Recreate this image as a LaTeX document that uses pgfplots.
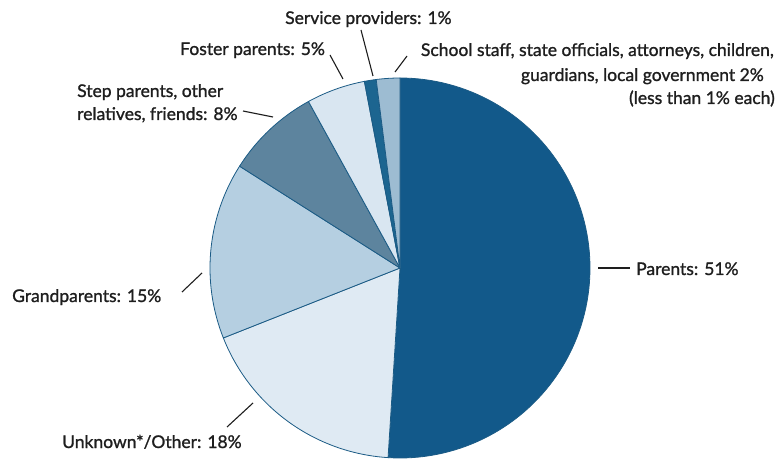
\documentclass[border=0pt]{standalone}
\usepackage{pgfplots}
\pgfplotsset{compat=1.18}
\usepackage{fontspec}
\setmainfont{Lato}
\newfontfamily\lblfont{Lato}[RawFeature={embolden=1.2}]

\definecolor{edge}{HTML}{1B5B85}
\definecolor{cParents}{HTML}{12598A}
\definecolor{cUnknown}{HTML}{DFEAF3}
\definecolor{cGrand}{HTML}{B5CFE1}
\definecolor{cStep}{HTML}{5D849E}
\definecolor{cFoster}{HTML}{D9E6F1}
\definecolor{cService}{HTML}{1C6590}
\definecolor{cSchool}{HTML}{9DBCD2}
\definecolor{txt}{HTML}{1E1E1E}

% #1: cumulative share before this slice (%), #2: share (%), #3: colour
\newcommand{\slice}[3]{%
  \addplot[fill=#3, draw=edge, line width=0.8pt, samples=100,
    domain={90-3.6*(#1+#2)}:{90-3.6*#1}]
    ({400+190*cos(x)},{268-190*sin(x)}) -- (axis cs:400,268) -- cycle;
}

\begin{document}
\begin{tikzpicture}[lbl/.style={font=\lblfont\fontsize{17.5}{25}\selectfont, text=txt, inner sep=0pt}]
\begin{axis}[
    width=777pt, height=462pt, scale only axis,
    xmin=0, xmax=777, ymin=0, ymax=462, y dir=reverse,
    axis line style={draw=none}, ticks=none, clip=false]

  \slice{0}{51}{cParents}
  \slice{51}{18}{cUnknown}
  \slice{69}{15}{cGrand}
  \slice{84}{8}{cStep}
  \slice{92}{5}{cFoster}
  \slice{97}{1}{cService}
  \slice{98}{2}{cSchool}

  % leaders
  \draw[line width=1.1pt, txt] (axis cs:598,268) -- (axis cs:630,268);
  \draw[line width=1.1pt, txt] (axis cs:227,427) -- (axis cs:253,403);
  \draw[line width=1.1pt, txt] (axis cs:182,292) -- (axis cs:202,273);
  \draw[line width=1.1pt, txt] (axis cs:243,111) -- (axis cs:273,117);
  \draw[line width=1.1pt, txt] (axis cs:330,55) -- (axis cs:343,79);
  \draw[line width=1.1pt, txt] (axis cs:361,30) -- (axis cs:373,76);
  \draw[line width=1.1pt, txt] (axis cs:395,72) -- (axis cs:407,56);

  % labels
  \node[lbl, anchor=base west] at (axis cs:636,275) {Parents: 51\%};
  \node[lbl, anchor=base west] at (axis cs:62,448) {Unknown*/Other: 18\%};
  \node[lbl, anchor=base west] at (axis cs:12,302) {Grandparents: 15\%};
  \node[lbl, anchor=base west] at (axis cs:77,97) {Step parents, other};
  \node[lbl, anchor=base west] at (axis cs:77,120) {relatives, friends: 8\%};
  \node[lbl, anchor=base west] at (axis cs:180,55) {Foster parents: 5\%};
  \node[lbl, anchor=base west] at (axis cs:285,24) {Service providers: 1\%};
  \node[lbl, anchor=base east] at (axis cs:774,56) {School staff, state officials, attorneys, children,};
  \node[lbl, anchor=base east] at (axis cs:764,81) {guardians, local government 2\%};
  \node[lbl, anchor=base east] at (axis cs:775,104) {(less than 1\% each)};
\end{axis}
\end{tikzpicture}
\end{document}
